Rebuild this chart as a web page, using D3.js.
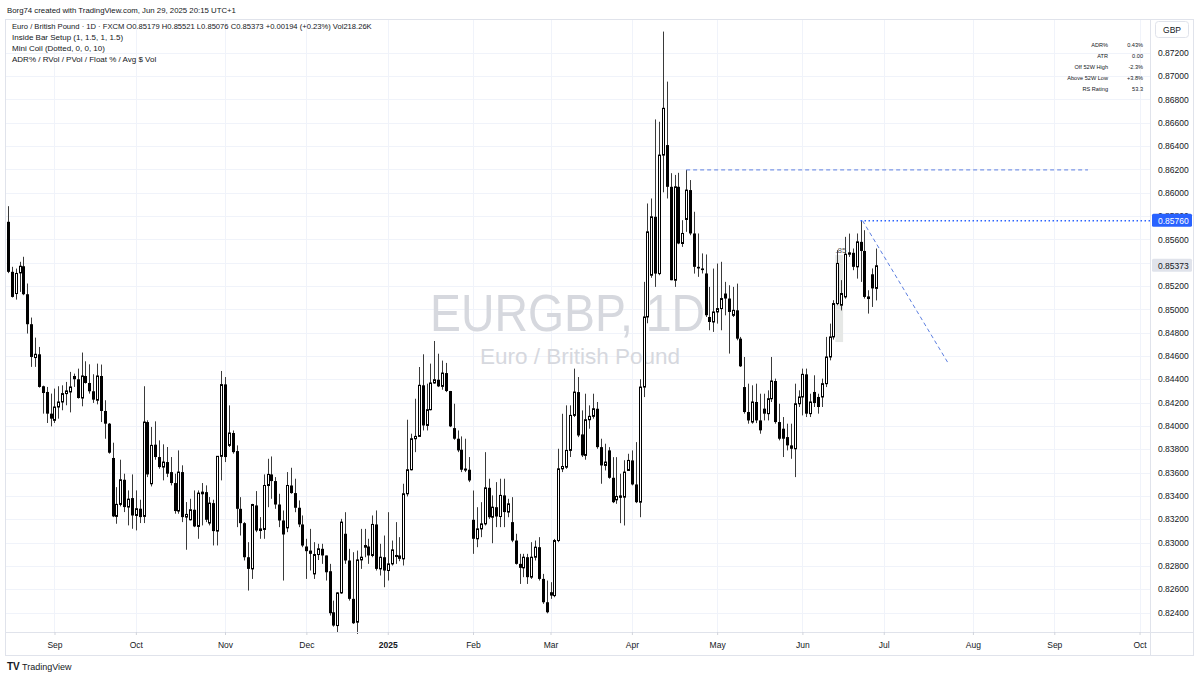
<!DOCTYPE html>
<html><head><meta charset="utf-8">
<script src="https://cdn.jsdelivr.net/npm/d3@7"></script>
<style>
body{margin:0;background:#fff;}
svg text{font-family:"Liberation Sans",Arial,sans-serif;}
</style>
</head><body>
<svg id="chart" width="1200" height="677"></svg>
<script>
// ---------------- DATA ----------------
const firstBarDate = "2024-08-15";
const futureUntil = "2025-10-15";
const holidays = ["2024-12-25", "2025-01-01"];

const open = [
.85750,.85321,.85135,.85312,.85369,.85129,.84872,.84586,.84614,.84340,
.84291,.84105,.84048,.84162,.84205,.84277,.84291,.84428,.84400,.84239,
.84428,.84368,.84297,.84220,.84428,.84128,.84019,.83725,.83224,.83327,
.83538,.83304,.83381,.83232,.83290,.83224,.84033,.83504,.83839,.83733,
.83647,.83690,.83604,.83510,.83270,.83604,.83218,.83195,.83281,.83138,
.83418,.83432,.83167,.83338,.83098,.83739,.84356,.83833,.83939,.83784,
.83289,.83166,.82874,.82774,.83318,.83103,.83112,.83489,.83584,.83527,
.83326,.83189,.83126,.83489,.83424,.83298,.83155,.82966,.82931,.82731,
.82897,.82946,.82889,.82754,.82402,.82288,.82568,.83075,.82846,.82517,
.82317,.82851,.82960,.82966,.82889,.83155,.82774,.82874,.82760,.82817,
.82880,.82889,.82860,.83418,.83624,.83890,.83910,.84348,.84004,.84139,
.84368,.84396,.84339,.84453,.84299,.83981,.83890,.83796,.83624,.83624,
.83195,.83032,.83117,.83160,.83469,.83217,.83303,.83223,.83404,.83261,
.83175,.83017,.82817,.82783,.82874,.82703,.82874,.82960,.82688,.82488,
.82574,.82545,.83017,.83632,.83646,.83790,.84090,.84290,.83927,.83747,
.84053,.84082,.84147,.83818,.83661,.83790,.83555,.83366,.83404,.83389,
.83618,.83704,.83498,.83346,.84333,.84934,.85292,.85793,.85306,.86322,
.86408,.86050,.85249,.86050,.85564,.85770,.86022,.85650,.85364,.85350,
.85307,.84934,.84891,.84977,.85006,.85135,.85092,.84948,.84991,.84748,
.84333,.84119,.84033,.84205,.84047,.84148,.84105,.84233,.84385,.84033,
.83976,.83904,.83833,.83804,.84190,.84248,.84442,.84105,.84291,.84248,
.84248,.84362,.84591,.84763,.85049,.85035,.85106,.85472,.85484,.85364,
.85578,.85500,.85092,.85300,.85179];
const high = [
.85884,.85364,.85349,.85407,.85450,.85221,.84929,.84757,.84677,.84345,
.84334,.84277,.84320,.84340,.84348,.84377,.84463,.84448,.84491,.84629,
.84554,.84528,.84443,.84534,.84526,.84220,.84025,.83856,.83475,.83710,
.83590,.83447,.83584,.83447,.83367,.84340,.84048,.83991,.84039,.83876,
.83842,.83819,.83733,.83590,.83790,.83662,.83347,.83375,.83447,.83447,
.83510,.83490,.83390,.83367,.83739,.84471,.84419,.84176,.83961,.83833,
.83389,.83175,.83003,.83332,.83441,.83218,.83584,.83718,.83738,.83561,
.83418,.83275,.83604,.83641,.83547,.83361,.83232,.83032,.83117,.83003,
.82989,.82989,.82889,.82817,.82502,.82574,.83203,.83260,.82946,.82917,
.82931,.83117,.83117,.83032,.83232,.83275,.82989,.83060,.83260,.83017,
.83175,.83046,.83504,.84053,.83933,.84233,.84505,.84614,.84362,.84534,
.84728,.84619,.84560,.84540,.84300,.84190,.83961,.83910,.83890,.83733,
.83446,.83303,.83346,.83775,.83547,.83404,.83518,.83547,.83547,.83375,
.83389,.83075,.82903,.82903,.82903,.83003,.83017,.83046,.82731,.82674,
.82660,.83031,.83804,.84104,.84176,.84176,.84491,.84419,.84133,.84276,
.84176,.84276,.84205,.83890,.83847,.83818,.83732,.83732,.83590,.83706,
.83761,.83790,.83861,.84400,.85235,.85907,.85950,.86628,.86608,.87381,
.86952,.86167,.86152,.86170,.85764,.86195,.86108,.85836,.85650,.85479,
.85470,.85192,.85349,.85392,.85407,.85235,.85206,.85192,.85220,.84763,
.84591,.84362,.84348,.84362,.84276,.84276,.84305,.84591,.84405,.84190,
.84076,.84019,.84019,.84362,.84305,.84491,.84491,.84276,.84434,.84276,
.84405,.84763,.84877,.85078,.85507,.85250,.85621,.85649,.85521,.85650,
.85760,.85678,.85163,.85350,.85521];
const low = [
.85310,.85101,.85083,.85149,.85121,.84792,.84506,.84506,.84328,.84105,
.84025,.83996,.84025,.84062,.84134,.84177,.84116,.84334,.84234,.84168,
.84363,.84277,.84197,.84185,.84033,.83890,.83762,.83218,.83161,.83310,
.83261,.83147,.83118,.83104,.83167,.83167,.83561,.83481,.83710,.83633,
.83533,.83561,.83490,.83247,.83247,.83175,.82938,.83189,.83132,.83032,
.83147,.83175,.83147,.82975,.82975,.83533,.83690,.83819,.83762,.83132,
.83060,.82846,.82588,.82688,.83089,.83032,.83032,.83303,.83375,.83289,
.83132,.82674,.83089,.83418,.83260,.83132,.82960,.82688,.82760,.82688,
.82850,.82817,.82674,.82374,.82279,.82231,.82560,.82817,.82502,.82302,
.82216,.82774,.82874,.82817,.82874,.82760,.82717,.82617,.82674,.82803,
.82817,.82840,.82803,.83395,.83618,.83775,.83910,.83961,.83961,.84133,
.84362,.84333,.84310,.84290,.83990,.83881,.83775,.83604,.83604,.83518,
.82903,.82960,.83046,.83146,.83203,.82994,.83132,.83132,.83132,.83217,
.83003,.82811,.82645,.82703,.82645,.82688,.82846,.82674,.82474,.82393,
.82517,.82531,.83003,.83604,.83632,.83733,.84076,.83904,.83733,.83710,
.83976,.84062,.83804,.83504,.83618,.83547,.83338,.83332,.83166,.83146,
.83618,.83490,.83338,.83217,.84247,.84880,.85270,.85192,.85292,.86003,
.85950,.85249,.85192,.85558,.85535,.85664,.85635,.85306,.85278,.85307,
.84934,.84820,.84806,.84877,.84820,.84948,.84620,.84934,.84734,.84505,
.84105,.84019,.84019,.84024,.83933,.84047,.84047,.84205,.84019,.83876,
.83733,.83790,.83718,.83561,.84162,.84090,.84076,.84076,.84162,.84105,
.84162,.84333,.84562,.84740,.85035,.84990,.85091,.85449,.85335,.85263,
.85235,.85092,.84963,.85020,.85076];
const close = [
.85321,.85106,.85307,.85369,.85129,.84872,.84591,.84614,.84334,.84282,
.84105,.84062,.84162,.84205,.84277,.84300,.84334,.84400,.84239,.84428,
.84368,.84297,.84225,.84428,.84128,.84019,.83770,.83224,.83327,.83538,
.83304,.83372,.83232,.83290,.83218,.84033,.83584,.83833,.83733,.83647,
.83690,.83590,.83510,.83270,.83604,.83218,.83241,.83281,.83138,.83424,
.83432,.83195,.83338,.83098,.83739,.84354,.83733,.83939,.83775,.83289,
.83166,.82874,.82774,.83326,.83103,.83117,.83489,.83584,.83527,.83326,
.83189,.83069,.83489,.83424,.83298,.83155,.82974,.82926,.82903,.82897,
.82946,.82889,.82745,.82394,.82288,.82568,.83175,.82846,.82517,.82308,
.82851,.82874,.82974,.82889,.83155,.82774,.82874,.82760,.82817,.82937,
.82889,.82860,.83418,.83624,.83890,.83910,.84348,.84004,.84139,.84368,
.84396,.84339,.84453,.84299,.83996,.83890,.83790,.83624,.83630,.83532,
.83032,.83117,.83160,.83469,.83217,.83303,.83223,.83404,.83261,.83332,
.83017,.82817,.82783,.82874,.82703,.82874,.82960,.82688,.82488,.82402,
.82545,.83017,.83632,.83652,.83790,.84090,.84290,.83918,.83747,.84053,
.84082,.84147,.83818,.83661,.83690,.83555,.83346,.83395,.83383,.83604,
.83704,.83498,.83346,.84333,.84934,.85664,.85793,.85306,.86322,.86723,
.86050,.85249,.86050,.85564,.85650,.86022,.85650,.85364,.85350,.85336,
.84949,.84891,.84977,.85006,.85092,.85092,.84977,.84991,.84748,.84511,
.84119,.84047,.84205,.84047,.83962,.84105,.84233,.84385,.84033,.83890,
.83890,.83833,.83804,.84190,.84248,.84442,.84105,.84205,.84196,.84162,
.84362,.84591,.84763,.85049,.85393,.85135,.85472,.85484,.85364,.85578,
.85500,.85106,.85106,.85179,.85373];

const priceTicks = [0.824,0.826,0.828,0.830,0.832,0.834,0.836,0.838,0.840,0.842,0.844,0.846,0.848,0.850,0.852,0.854,0.856,0.858,0.860,0.862,0.864,0.866,0.868,0.870,0.872];
const monthTickLabels = ["Sep","Oct","Nov","Dec","2025","Feb","Mar","Apr","May","Jun","Jul","Aug","Sep","Oct"];
const lastPrice = 0.85373;
const peakLevel = 0.85760;       // dotted level from the June high
const peakBar = 220;
const resistanceLevel = 0.86195; // dashed level from the April swing high
const resistanceBar = 175;
const resistanceEndBar = 278.7;
const trendEndBar = 242.6, trendEndPrice = 0.84539;
const coilZone = {start:214, end:215, top:0.85465, bottom:0.84719, label:".85"};

const headerText = "Borg74 created with TradingView.com, Jun 29, 2025 20:15 UTC+1";
const legendLines = [
 "Euro / British Pound · 1D · FXCM O0.85179 H0.85521 L0.85076 C0.85373 +0.00194 (+0.23%) Vol218.26K",
 "Inside Bar Setup (1, 1.5, 1, 1.5)",
 "Mini Coil (Dotted, 0, 0, 10)",
 "ADR% / RVol / PVol / Float % / Avg $ Vol"];
const tableLabels = ["ADR%","ATR","Off 52W High","Above 52W Low","RS Rating"];
const tableValues = ["0.43%","0.00","-2.3%","+3.8%","53.3"];
const watermark = ["EURGBP, 1D", "Euro / British Pound"];

// ---------------- DATES ----------------
function iso(d){return d3.timeFormat("%Y-%m-%d")(d);}
const dates = [];
{
  let d = d3.timeParse("%Y-%m-%d")(firstBarDate);
  const end = d3.timeParse("%Y-%m-%d")(futureUntil);
  while (d <= end) {
    const wd = d.getDay();
    if (wd !== 0 && wd !== 6 && !holidays.includes(iso(d))) dates.push(new Date(d));
    d = d3.timeDay.offset(d, 1);
  }
}
const bars = open.map((o,i)=>({i, date:dates[i], o, h:high[i], l:low[i], c:close[i]}));

// ---------------- LAYOUT ----------------
const svg = d3.select("#chart");
const paneL = 5, paneR = 1150, paneT = 19, paneB = 632, outerR = 1193, outerB = 655;
const x = d3.scaleLinear().domain([-0.77, 294.7]).range([paneL, paneR]);
const y = d3.scaleLinear().domain([0.824, 0.872]).range([612.5, 52.7]);

const monthIdx = [];
for (let i = 1; i < dates.length; i++) {
  if (dates[i].getMonth() !== dates[i-1].getMonth()) monthIdx.push(i);
}
const ticksX = monthIdx.slice(0, monthTickLabels.length);

svg.append("rect").attr("width",1200).attr("height",677).attr("fill","#fff");

// grid
const grid = svg.append("g");
grid.selectAll("line.h").data(priceTicks).join("line")
  .attr("x1",paneL).attr("x2",paneR)
  .attr("y1",d=>Math.round(y(d))+0.5).attr("y2",d=>Math.round(y(d))+0.5)
  .attr("stroke","#f0f3fa");
grid.selectAll("line.v").data(ticksX).join("line")
  .attr("x1",d=>Math.round(x(d))+0.5).attr("x2",d=>Math.round(x(d))+0.5)
  .attr("y1",paneT).attr("y2",paneB).attr("stroke","#f0f3fa");

// watermark
svg.append("text").attr("x",430).attr("y",331)
  .attr("font-size",51).attr("fill","#d6d8de")
  .attr("textLength",275).attr("lengthAdjust","spacingAndGlyphs").text(watermark[0]);
svg.append("text").attr("x",580).attr("y",364).attr("text-anchor","middle")
  .attr("font-size",22.5).attr("fill","#d6d8de").text(watermark[1]);

// coil zone
svg.append("rect")
  .attr("x",x(coilZone.start-0.5)).attr("width",x(coilZone.end+0.5)-x(coilZone.start-0.5))
  .attr("y",y(coilZone.top)).attr("height",y(coilZone.bottom)-y(coilZone.top))
  .attr("fill","#e6e8e6");
svg.append("text").attr("x",x(coilZone.start-0.5)).attr("y",y(coilZone.top)-2)
  .attr("font-size",8).attr("fill","#555").text(coilZone.label);

// candles
const plot = svg.append("g");
const cg = plot.selectAll("g.c").data(bars).join("g");
cg.append("line")
  .attr("x1",d=>Math.round(x(d.i))+0.5).attr("x2",d=>Math.round(x(d.i))+0.5)
  .attr("y1",d=>y(d.h)).attr("y2",d=>y(d.l))
  .attr("stroke","#3a3a3a").attr("stroke-width",1);
cg.append("rect")
  .attr("x",d=>Math.round(x(d.i))-1+ (d.c>=d.o?0.5:0))
  .attr("width",d=>d.c>=d.o?2:3)
  .attr("y",d=>y(Math.max(d.o,d.c)))
  .attr("height",d=>Math.max(1,Math.abs(y(d.o)-y(d.c))))
  .attr("fill",d=>d.c>=d.o?"#ffffff":"#000000")
  .attr("stroke",d=>d.c>=d.o?"#000":"none").attr("stroke-width",1);

// drawings
svg.append("line").attr("x1",x(resistanceBar)).attr("x2",x(resistanceEndBar))
  .attr("y1",y(resistanceLevel)).attr("y2",y(resistanceLevel))
  .attr("stroke","#5d7fe0").attr("stroke-width",1).attr("stroke-dasharray","4,3");
svg.append("line").attr("x1",x(peakBar)).attr("x2",paneR)
  .attr("y1",y(peakLevel)).attr("y2",y(peakLevel))
  .attr("stroke","#2962ff").attr("stroke-width",1.5).attr("stroke-dasharray","1.5,2.5");
svg.append("line").attr("x1",x(peakBar)+2).attr("x2",x(trendEndBar))
  .attr("y1",y(peakLevel)).attr("y2",y(trendEndPrice))
  .attr("stroke","#5d7fe0").attr("stroke-width",1).attr("stroke-dasharray","4,3");

// frames
svg.append("rect").attr("x",paneL+0.5).attr("y",paneT+0.5).attr("width",outerR-paneL).attr("height",outerB-paneT)
  .attr("fill","none").attr("stroke","#e0e3eb");
svg.append("line").attr("x1",paneR+0.5).attr("x2",paneR+0.5).attr("y1",paneT).attr("y2",outerB).attr("stroke","#e0e3eb");
svg.append("line").attr("x1",paneL).attr("x2",outerR).attr("y1",paneB+0.5).attr("y2",paneB+0.5).attr("stroke","#e0e3eb");

// right price axis
const ya = svg.append("g").attr("transform",`translate(${paneR},0)`)
  .call(d3.axisRight(y).tickValues(priceTicks).tickFormat(d3.format(".5f")).tickSize(0).tickPadding(8));
ya.select(".domain").remove();
ya.selectAll("text").attr("font-size",8.5).attr("fill","#131722").attr("font-family","Liberation Sans, Arial, sans-serif");

// bottom time axis
const xa = svg.append("g").attr("transform",`translate(0,${paneB})`)
  .call(d3.axisBottom(x).tickValues(ticksX).tickFormat((d,k)=>monthTickLabels[k]).tickSize(3).tickPadding(7));
xa.select(".domain").remove();
xa.selectAll("line").attr("stroke","#d1d4dc");
xa.selectAll("text").attr("font-size",8.5).attr("fill","#131722").attr("font-family","Liberation Sans, Arial, sans-serif")
  .attr("font-weight",(d,k)=>monthTickLabels[k]==="2025"?"bold":"normal");

// price labels
function priceTag(v, bg, fg){
  const g = svg.append("g").attr("transform",`translate(${paneR+2},${y(v)})`);
  g.append("rect").attr("x",0).attr("y",-7).attr("width",40).attr("height",13).attr("rx",1.5).attr("fill",bg);
  g.append("text").attr("x",6).attr("y",3).attr("font-size",8.5).attr("fill",fg).text(d3.format(".5f")(v));
}
priceTag(peakLevel,"#2962ff","#ffffff");
priceTag(lastPrice,"#e0e3eb","#131722");

// GBP box
svg.append("rect").attr("x",1155.5).attr("y",21.5).attr("width",33).attr("height",16).attr("rx",3)
  .attr("fill","#fff").attr("stroke","#e0e3eb");
svg.append("text").attr("x",1172).attr("y",32.5).attr("text-anchor","middle").attr("font-size",8.5).attr("fill","#131722").text("GBP");

// header and legend
svg.append("text").attr("x",7).attr("y",12.5).attr("font-size",7.8).attr("fill","#131722").text(headerText);
svg.selectAll("text.leg").data(legendLines).join("text")
  .attr("x",12).attr("y",(d,k)=>29+k*11).attr("font-size",(d,k)=>k===0?7.6:8).attr("fill","#131722")
  .text(d=>d);

// table
svg.selectAll("text.tl").data(tableLabels).join("text")
  .attr("x",1108).attr("y",(d,k)=>46.5+k*11.2).attr("text-anchor","end").attr("font-size",5.6).attr("fill","#131722").text(d=>d);
svg.selectAll("text.tv").data(tableValues).join("text")
  .attr("x",1143).attr("y",(d,k)=>46.5+k*11.2).attr("text-anchor","end").attr("font-size",5.6).attr("fill","#131722").text(d=>d);

// logo
const logo = svg.append("g").attr("transform","translate(7,661)");
logo.append("text").attr("x",0).attr("y",9).attr("font-size",10).attr("font-weight","bold").attr("fill","#131722").text("TV");
logo.append("text").attr("x",15).attr("y",9).attr("font-size",9).attr("fill","#131722").text("TradingView");
</script>
</body></html>
